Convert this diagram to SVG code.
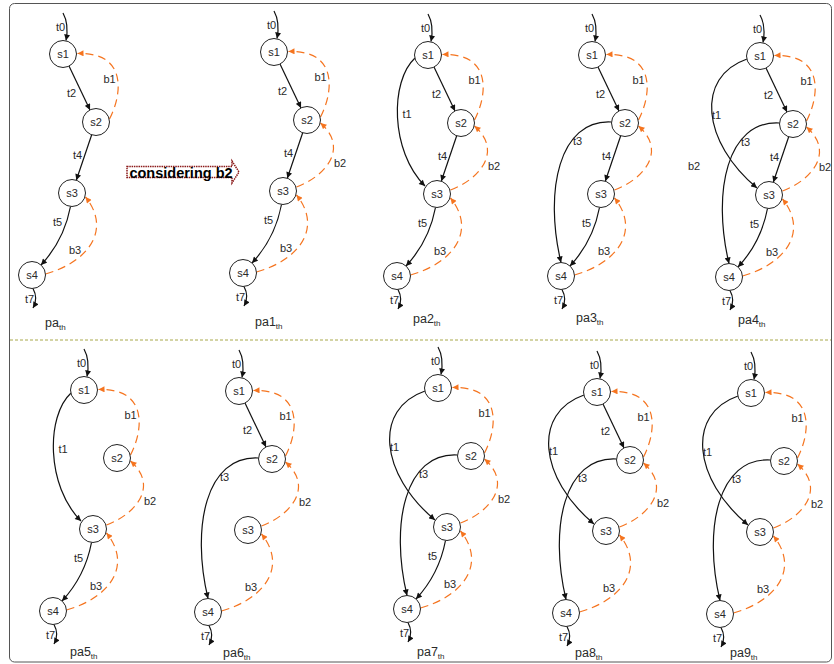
<svg xmlns="http://www.w3.org/2000/svg" width="834" height="664" viewBox="0 0 834 664">
<style>
text{font-family:"Liberation Sans",Arial,sans-serif;fill:#2a2a2a}
.n circle{fill:#fff;stroke:#222;stroke-width:1}
.n text{font-size:11px;text-anchor:middle}
.e{fill:none;stroke:#111;stroke-width:1.2;marker-end:url(#ah)}
.b{fill:none;stroke:#f5741f;stroke-width:1.2;stroke-dasharray:8,5;marker-end:url(#ao)}
.l{font-size:11px;text-anchor:middle}
.pl{font-size:12.5px}
.sub{font-size:8px}
</style>
<defs>
<marker id="ah" markerUnits="userSpaceOnUse" viewBox="0 0 10 10" refX="10" refY="5" markerWidth="7" markerHeight="6" orient="auto"><path d="M0,0 L10,5 L0,10 z" fill="#111"/></marker>
<marker id="ao" markerUnits="userSpaceOnUse" viewBox="0 0 10 10" refX="10" refY="5" markerWidth="7" markerHeight="6" orient="auto"><path d="M0,0 L10,5 L0,10 z" fill="#f5741f"/></marker>
</defs>
<rect x="9.5" y="3.5" width="822" height="658.5" rx="5" fill="#fff" stroke="#555" stroke-width="1"/>
<line x1="10" y1="340" x2="831" y2="340" stroke="#a8a84a" stroke-width="1" stroke-dasharray="3,2"/>

<g id="considering-b2">
<path d="M127,166.5 H232 V161 L239,172 L232,183 V177.5 H127 Z" fill="#fff" stroke="#8b1a1a" stroke-width="1.5" stroke-dasharray="1.5,0.8"/>
<text x="181" y="177.5" font-size="14.5" font-weight="bold" text-anchor="middle" style="fill:#000">considering b2</text>
</g>
<text x="688" y="170" class="l" style="text-anchor:start">b2</text>

<!-- pa -->
<g id="pa" transform="translate(0,0)">
<g id="pa-connectors">
<path class="e" d="M63,13 C68,22 68,30 66,40.5"/>
<path class="e" d="M69,66 L90,110"/>
<path class="e" d="M91.7,134.8 L76.3,180.2"/>
<path class="e" d="M70.5,206.5 C66,230 55,250 41,265"/>
<path class="e" d="M33,288.5 C36,294 37,301 33,308"/>
<path class="b" d="M109.5,119 C122,95 128,52 77.5,53.5"/>
<path class="b" d="M45.5,274 C88,262 112,230 85.5,197"/>
<text class="l" x="60.5" y="31">t0</text><text class="l" x="71.5" y="97">t2</text><text class="l" x="77.5" y="159">t4</text><text class="l" x="57.5" y="226">t5</text><text class="l" x="29.5" y="303">t7</text><text class="l" x="109.5" y="83">b1</text><text class="l" x="75" y="254">b3</text>
</g>
<g id="pa-s1" class="n"><circle cx="63" cy="54" r="13.5"/><text x="63" y="58">s1</text></g>
<g id="pa-s2" class="n"><circle cx="96" cy="122" r="13.5"/><text x="96" y="126">s2</text></g>
<g id="pa-s3" class="n"><circle cx="72" cy="193" r="13.5"/><text x="72" y="197">s3</text></g>
<g id="pa-s4" class="n"><circle cx="32" cy="275" r="13.5"/><text x="32" y="279">s4</text></g>
</g>

<!-- pa1 -->
<g id="pa1" transform="translate(211,-2)">
<g id="pa1-connectors">
<path class="e" d="M63,13 C68,22 68,30 66,40.5"/>
<path class="e" d="M69,66 L90,110"/>
<path class="e" d="M91.7,134.8 L76.3,180.2"/>
<path class="e" d="M70.5,206.5 C66,230 55,250 41,265"/>
<path class="e" d="M33,288.5 C36,294 37,301 33,308"/>
<path class="b" d="M109.5,119 C122,95 128,52 77.5,53.5"/>
<path class="b" d="M85.5,189 C115,178 138,150 109.5,125"/>
<path class="b" d="M45.5,274 C88,262 112,230 85.5,197"/>
<text class="l" x="60.5" y="31">t0</text><text class="l" x="71.5" y="97">t2</text><text class="l" x="77.5" y="159">t4</text><text class="l" x="57.5" y="226">t5</text><text class="l" x="29.5" y="303">t7</text><text class="l" x="109.5" y="83">b1</text><text class="l" x="129" y="169">b2</text><text class="l" x="75" y="254">b3</text>
</g>
<g id="pa1-s1" class="n"><circle cx="63" cy="54" r="13.5"/><text x="63" y="58">s1</text></g>
<g id="pa1-s2" class="n"><circle cx="96" cy="122" r="13.5"/><text x="96" y="126">s2</text></g>
<g id="pa1-s3" class="n"><circle cx="72" cy="193" r="13.5"/><text x="72" y="197">s3</text></g>
<g id="pa1-s4" class="n"><circle cx="32" cy="275" r="13.5"/><text x="32" y="279">s4</text></g>
</g>

<!-- pa2 -->
<g id="pa2" transform="translate(365,1)">
<g id="pa2-connectors">
<path class="e" d="M63,13 C68,22 68,30 66,40.5"/>
<path class="e" d="M50,57 C25,80 25,150 60,185"/>
<path class="e" d="M69,66 L90,110"/>
<path class="e" d="M91.7,134.8 L76.3,180.2"/>
<path class="e" d="M70.5,206.5 C66,230 55,250 41,265"/>
<path class="e" d="M33,288.5 C36,294 37,301 33,308"/>
<path class="b" d="M109.5,119 C122,95 128,52 77.5,53.5"/>
<path class="b" d="M85.5,189 C115,178 138,150 109.5,125"/>
<path class="b" d="M45.5,274 C88,262 112,230 85.5,197"/>
<text class="l" x="60.5" y="31">t0</text><text class="l" x="42" y="117">t1</text><text class="l" x="71.5" y="97">t2</text><text class="l" x="77.5" y="159">t4</text><text class="l" x="57.5" y="226">t5</text><text class="l" x="29.5" y="303">t7</text><text class="l" x="109.5" y="83">b1</text><text class="l" x="129" y="169">b2</text><text class="l" x="75" y="254">b3</text>
</g>
<g id="pa2-s1" class="n"><circle cx="63" cy="54" r="13.5"/><text x="63" y="58">s1</text></g>
<g id="pa2-s2" class="n"><circle cx="96" cy="122" r="13.5"/><text x="96" y="126">s2</text></g>
<g id="pa2-s3" class="n"><circle cx="72" cy="193" r="13.5"/><text x="72" y="197">s3</text></g>
<g id="pa2-s4" class="n"><circle cx="32" cy="275" r="13.5"/><text x="32" y="279">s4</text></g>
</g>

<!-- pa3 -->
<g id="pa3" transform="translate(529,1)">
<g id="pa3-connectors">
<path class="e" d="M63,13 C68,22 68,30 66,40.5"/>
<path class="e" d="M69,66 L90,110"/>
<path class="e" d="M82.5,121 C30,118 15,190 32,261.5"/>
<path class="e" d="M91.7,134.8 L76.3,180.2"/>
<path class="e" d="M70.5,206.5 C66,230 55,250 41,265"/>
<path class="e" d="M33,288.5 C36,294 37,301 33,308"/>
<path class="b" d="M109.5,119 C122,95 128,52 77.5,53.5"/>
<path class="b" d="M85.5,189 C115,178 138,150 109.5,125"/>
<path class="b" d="M45.5,274 C88,262 112,230 85.5,197"/>
<text class="l" x="60.5" y="31">t0</text><text class="l" x="71.5" y="97">t2</text><text class="l" x="48.5" y="144">t3</text><text class="l" x="77.5" y="159">t4</text><text class="l" x="57.5" y="226">t5</text><text class="l" x="29.5" y="303">t7</text><text class="l" x="109.5" y="83">b1</text><text class="l" x="75" y="254">b3</text>
</g>
<g id="pa3-s1" class="n"><circle cx="63" cy="54" r="13.5"/><text x="63" y="58">s1</text></g>
<g id="pa3-s2" class="n"><circle cx="96" cy="122" r="13.5"/><text x="96" y="126">s2</text></g>
<g id="pa3-s3" class="n"><circle cx="72" cy="193" r="13.5"/><text x="72" y="197">s3</text></g>
<g id="pa3-s4" class="n"><circle cx="32" cy="275" r="13.5"/><text x="32" y="279">s4</text></g>
</g>

<!-- pa4 -->
<g id="pa4" transform="translate(697,2)">
<g id="pa4-connectors">
<path class="e" d="M63,13 C68,22 68,30 66,40.5"/>
<path class="e" d="M50,57 C-2,75 5,140 60,186"/>
<path class="e" d="M69,66 L90,110"/>
<path class="e" d="M82.5,121 C30,118 15,190 32,261.5"/>
<path class="e" d="M91.7,134.8 L76.3,180.2"/>
<path class="e" d="M70.5,206.5 C66,230 55,250 41,265"/>
<path class="e" d="M33,288.5 C36,294 37,301 33,308"/>
<path class="b" d="M109.5,119 C122,95 128,52 77.5,53.5"/>
<path class="b" d="M85.5,189 C115,178 138,150 109.5,125"/>
<path class="b" d="M45.5,274 C88,262 112,230 85.5,197"/>
<text class="l" x="60.5" y="31">t0</text><text class="l" x="19.5" y="117">t1</text><text class="l" x="71.5" y="97">t2</text><text class="l" x="48.5" y="144">t3</text><text class="l" x="77.5" y="159">t4</text><text class="l" x="57.5" y="226">t5</text><text class="l" x="29.5" y="303">t7</text><text class="l" x="109.5" y="83">b1</text><text class="l" x="128" y="169">b2</text><text class="l" x="75" y="254">b3</text>
</g>
<g id="pa4-s1" class="n"><circle cx="63" cy="54" r="13.5"/><text x="63" y="58">s1</text></g>
<g id="pa4-s2" class="n"><circle cx="96" cy="122" r="13.5"/><text x="96" y="126">s2</text></g>
<g id="pa4-s3" class="n"><circle cx="72" cy="193" r="13.5"/><text x="72" y="197">s3</text></g>
<g id="pa4-s4" class="n"><circle cx="32" cy="275" r="13.5"/><text x="32" y="279">s4</text></g>
</g>

<!-- pa5 -->
<g id="pa5" transform="translate(21,336)">
<g id="pa5-connectors">
<path class="e" d="M63,13 C68,22 68,30 66,40.5"/>
<path class="e" d="M50,57 C25,80 25,150 60,185"/>
<path class="e" d="M70.5,206.5 C66,230 55,250 41,265"/>
<path class="e" d="M33,288.5 C36,294 37,301 33,308"/>
<path class="b" d="M109.5,119 C122,95 128,52 77.5,53.5"/>
<path class="b" d="M85.5,189 C115,178 138,150 109.5,125"/>
<path class="b" d="M45.5,274 C88,262 112,230 85.5,197"/>
<text class="l" x="60.5" y="31">t0</text><text class="l" x="42" y="117">t1</text><text class="l" x="57.5" y="226">t5</text><text class="l" x="29.5" y="303">t7</text><text class="l" x="109.5" y="83">b1</text><text class="l" x="129" y="169">b2</text><text class="l" x="75" y="254">b3</text>
</g>
<g id="pa5-s1" class="n"><circle cx="63" cy="54" r="13.5"/><text x="63" y="58">s1</text></g>
<g id="pa5-s2" class="n"><circle cx="96" cy="122" r="13.5"/><text x="96" y="126">s2</text></g>
<g id="pa5-s3" class="n"><circle cx="72" cy="193" r="13.5"/><text x="72" y="197">s3</text></g>
<g id="pa5-s4" class="n"><circle cx="32" cy="275" r="13.5"/><text x="32" y="279">s4</text></g>
</g>

<!-- pa6 -->
<g id="pa6" transform="translate(176,337)">
<g id="pa6-connectors">
<path class="e" d="M63,13 C68,22 68,30 66,40.5"/>
<path class="e" d="M69,66 L90,110"/>
<path class="e" d="M82.5,121 C30,118 15,190 32,261.5"/>
<path class="e" d="M33,288.5 C36,294 37,301 33,308"/>
<path class="b" d="M109.5,119 C122,95 128,52 77.5,53.5"/>
<path class="b" d="M85.5,189 C115,178 138,150 109.5,125"/>
<path class="b" d="M45.5,274 C88,262 112,230 85.5,197"/>
<text class="l" x="60.5" y="31">t0</text><text class="l" x="71.5" y="97">t2</text><text class="l" x="48.5" y="144">t3</text><text class="l" x="29.5" y="303">t7</text><text class="l" x="109.5" y="83">b1</text><text class="l" x="129" y="169">b2</text><text class="l" x="75" y="254">b3</text>
</g>
<g id="pa6-s1" class="n"><circle cx="63" cy="54" r="13.5"/><text x="63" y="58">s1</text></g>
<g id="pa6-s2" class="n"><circle cx="96" cy="122" r="13.5"/><text x="96" y="126">s2</text></g>
<g id="pa6-s3" class="n"><circle cx="72" cy="193" r="13.5"/><text x="72" y="197">s3</text></g>
<g id="pa6-s4" class="n"><circle cx="32" cy="275" r="13.5"/><text x="32" y="279">s4</text></g>
</g>

<!-- pa7 -->
<g id="pa7" transform="translate(375,334)">
<g id="pa7-connectors">
<path class="e" d="M63,13 C68,22 68,30 66,40.5"/>
<path class="e" d="M50,57 C-2,75 5,140 60,186"/>
<path class="e" d="M82.5,121 C30,118 15,190 32,261.5"/>
<path class="e" d="M70.5,206.5 C66,230 55,250 41,265"/>
<path class="e" d="M33,288.5 C36,294 37,301 33,308"/>
<path class="b" d="M109.5,119 C122,95 128,52 77.5,53.5"/>
<path class="b" d="M85.5,189 C115,178 138,150 109.5,125"/>
<path class="b" d="M45.5,274 C88,262 112,230 85.5,197"/>
<text class="l" x="60.5" y="31">t0</text><text class="l" x="19.5" y="117">t1</text><text class="l" x="48.5" y="144">t3</text><text class="l" x="57.5" y="226">t5</text><text class="l" x="29.5" y="303">t7</text><text class="l" x="109.5" y="83">b1</text><text class="l" x="129" y="169">b2</text><text class="l" x="75" y="254">b3</text>
</g>
<g id="pa7-s1" class="n"><circle cx="63" cy="54" r="13.5"/><text x="63" y="58">s1</text></g>
<g id="pa7-s2" class="n"><circle cx="96" cy="122" r="13.5"/><text x="96" y="126">s2</text></g>
<g id="pa7-s3" class="n"><circle cx="72" cy="193" r="13.5"/><text x="72" y="197">s3</text></g>
<g id="pa7-s4" class="n"><circle cx="32" cy="275" r="13.5"/><text x="32" y="279">s4</text></g>
</g>

<!-- pa8 -->
<g id="pa8" transform="translate(534,338)">
<g id="pa8-connectors">
<path class="e" d="M63,13 C68,22 68,30 66,40.5"/>
<path class="e" d="M50,57 C-2,75 5,140 60,186"/>
<path class="e" d="M69,66 L90,110"/>
<path class="e" d="M82.5,121 C30,118 15,190 32,261.5"/>
<path class="e" d="M33,288.5 C36,294 37,301 33,308"/>
<path class="b" d="M109.5,119 C122,95 128,52 77.5,53.5"/>
<path class="b" d="M85.5,189 C115,178 138,150 109.5,125"/>
<path class="b" d="M45.5,274 C88,262 112,230 85.5,197"/>
<text class="l" x="60.5" y="31">t0</text><text class="l" x="19.5" y="117">t1</text><text class="l" x="71.5" y="97">t2</text><text class="l" x="48.5" y="144">t3</text><text class="l" x="29.5" y="303">t7</text><text class="l" x="109.5" y="83">b1</text><text class="l" x="129" y="169">b2</text><text class="l" x="75" y="254">b3</text>
</g>
<g id="pa8-s1" class="n"><circle cx="63" cy="54" r="13.5"/><text x="63" y="58">s1</text></g>
<g id="pa8-s2" class="n"><circle cx="96" cy="122" r="13.5"/><text x="96" y="126">s2</text></g>
<g id="pa8-s3" class="n"><circle cx="72" cy="193" r="13.5"/><text x="72" y="197">s3</text></g>
<g id="pa8-s4" class="n"><circle cx="32" cy="275" r="13.5"/><text x="32" y="279">s4</text></g>
</g>

<!-- pa9 -->
<g id="pa9" transform="translate(688,339)">
<g id="pa9-connectors">
<path class="e" d="M63,13 C68,22 68,30 66,40.5"/>
<path class="e" d="M50,57 C-2,75 5,140 60,186"/>
<path class="e" d="M82.5,121 C30,118 15,190 32,261.5"/>
<path class="e" d="M33,288.5 C36,294 37,301 33,308"/>
<path class="b" d="M109.5,119 C122,95 128,52 77.5,53.5"/>
<path class="b" d="M85.5,189 C115,178 138,150 109.5,125"/>
<path class="b" d="M45.5,274 C88,262 112,230 85.5,197"/>
<text class="l" x="60.5" y="31">t0</text><text class="l" x="19.5" y="117">t1</text><text class="l" x="48.5" y="144">t3</text><text class="l" x="29.5" y="303">t7</text><text class="l" x="109.5" y="83">b1</text><text class="l" x="129" y="169">b2</text><text class="l" x="75" y="254">b3</text>
</g>
<g id="pa9-s1" class="n"><circle cx="63" cy="54" r="13.5"/><text x="63" y="58">s1</text></g>
<g id="pa9-s2" class="n"><circle cx="96" cy="122" r="13.5"/><text x="96" y="126">s2</text></g>
<g id="pa9-s3" class="n"><circle cx="72" cy="193" r="13.5"/><text x="72" y="197">s3</text></g>
<g id="pa9-s4" class="n"><circle cx="32" cy="275" r="13.5"/><text x="32" y="279">s4</text></g>
</g>

<g id="panel-labels" class="pl">
<text x="45" y="327">pa<tspan class="sub" dy="3">th</tspan></text>
<text x="255" y="326">pa1<tspan class="sub" dy="3">th</tspan></text>
<text x="413" y="323">pa2<tspan class="sub" dy="3">th</tspan></text>
<text x="576" y="322">pa3<tspan class="sub" dy="3">th</tspan></text>
<text x="738" y="324">pa4<tspan class="sub" dy="3">th</tspan></text>
<text x="70" y="656">pa5<tspan class="sub" dy="3">th</tspan></text>
<text x="223" y="657">pa6<tspan class="sub" dy="3">th</tspan></text>
<text x="417" y="656">pa7<tspan class="sub" dy="3">th</tspan></text>
<text x="575" y="657">pa8<tspan class="sub" dy="3">th</tspan></text>
<text x="730" y="657">pa9<tspan class="sub" dy="3">th</tspan></text>
</g>
</svg>
